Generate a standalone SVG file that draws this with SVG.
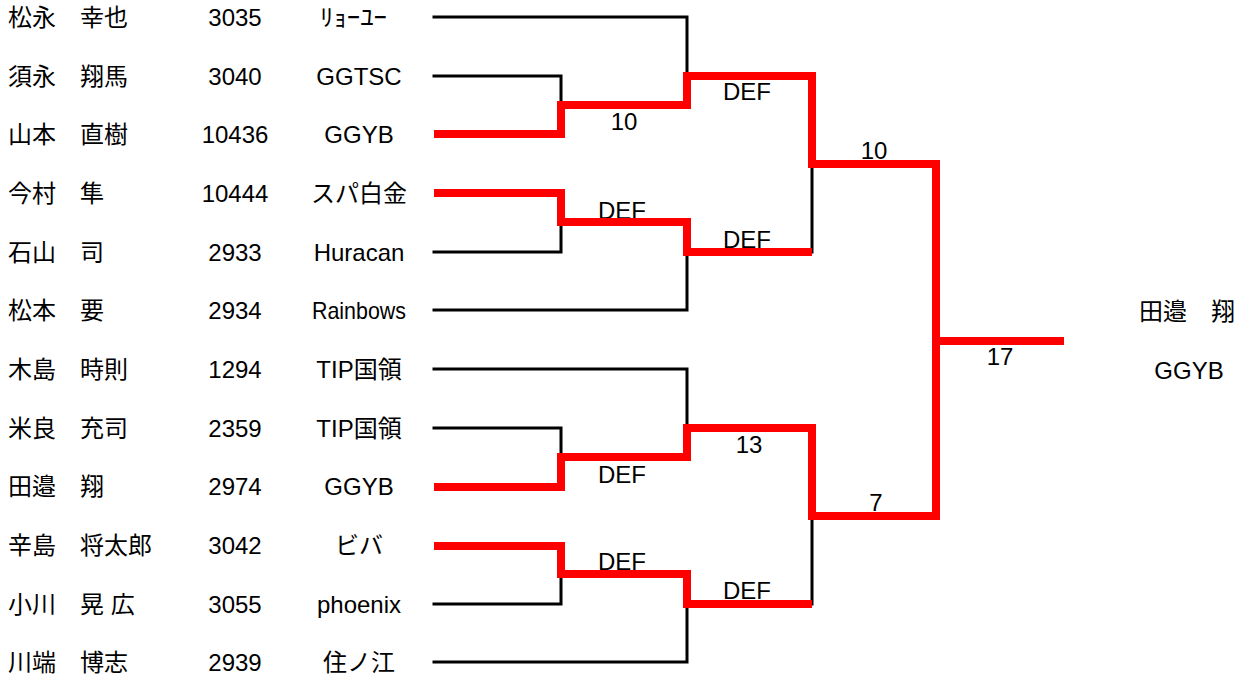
<svg xmlns="http://www.w3.org/2000/svg" width="1242" height="679" viewBox="0 0 1242 679">
<style>
text{font-family:"Liberation Sans","Noto Sans CJK JP",sans-serif;font-size:24px;fill:#000}
.n{text-anchor:start}
.c{text-anchor:middle}
.bk{fill:none;stroke:#000;stroke-width:3;stroke-linejoin:miter;stroke-linecap:square}
.rd{fill:none;stroke:#ff0000;stroke-width:8;stroke-linejoin:miter;stroke-linecap:butt}
</style>
<rect width="1242" height="679" fill="#fff"/>
<g id="entries">
<g id="p1"><text class="n" x="8" y="26">松永　幸也</text><text class="c" x="235" y="26">3035</text><text class="n" x="320" y="26" textLength="67" lengthAdjust="spacingAndGlyphs">ﾘｮｰﾕｰ</text></g>
<g id="p2"><text class="n" x="8" y="85">須永　翔馬</text><text class="c" x="235" y="85">3040</text><text class="c" x="359" y="85">GGTSC</text></g>
<g id="p3"><text class="n" x="8" y="143">山本　直樹</text><text class="c" x="235" y="143">10436</text><text class="c" x="359" y="143">GGYB</text></g>
<g id="p4"><text class="n" x="8" y="202">今村　隼</text><text class="c" x="235" y="202">10444</text><text class="c" x="359" y="202">スパ白金</text></g>
<g id="p5"><text class="n" x="8" y="261">石山　司</text><text class="c" x="235" y="261">2933</text><text class="c" x="359" y="261">Huracan</text></g>
<g id="p6"><text class="n" x="8" y="319">松本　要</text><text class="c" x="235" y="319">2934</text><text class="c" x="359" y="319" textLength="94" lengthAdjust="spacingAndGlyphs">Rainbows</text></g>
<g id="p7"><text class="n" x="8" y="378">木島　時則</text><text class="c" x="235" y="378">1294</text><text class="c" x="359" y="378">TIP国領</text></g>
<g id="p8"><text class="n" x="8" y="437">米良　充司</text><text class="c" x="235" y="437">2359</text><text class="c" x="359" y="437">TIP国領</text></g>
<g id="p9"><text class="n" x="8" y="495">田邉　翔</text><text class="c" x="235" y="495">2974</text><text class="c" x="359" y="495">GGYB</text></g>
<g id="p10"><text class="n" x="8" y="554">辛島　将太郎</text><text class="c" x="235" y="554">3042</text><text class="c" x="359" y="554">ビバ</text></g>
<g id="p11"><text class="n" x="8" y="613">小川　晃 広</text><text class="c" x="235" y="613">3055</text><text class="c" x="359" y="613">phoenix</text></g>
<g id="p12"><text class="n" x="8" y="671">川端　博志</text><text class="c" x="235" y="671">2939</text><text class="c" x="359" y="671">住ノ江</text></g>
</g>
<g id="winner"><text class="c" x="1187" y="320">田邉　翔</text><text class="c" x="1189" y="379">GGYB</text></g>
<g id="scores">
<text class="c" x="624" y="130">10</text>
<text class="c" x="747" y="100">DEF</text>
<text class="c" x="874" y="159">10</text>
<text class="c" x="622" y="219">DEF</text>
<text class="c" x="747" y="248">DEF</text>
<text class="c" x="1000" y="365">17</text>
<text class="c" x="749" y="453">13</text>
<text class="c" x="622" y="483">DEF</text>
<text class="c" x="876" y="511">7</text>
<text class="c" x="622" y="570">DEF</text>
<text class="c" x="747" y="599">DEF</text>
</g>
<g id="connectors">
<path class="bk" d="M434,17 H687 V76 M434,76 H561 V105 M434,252 H561 V222 M434,310 H687 V252 M812,164 V252 M936,164 V341 M434,369 H687 V428 M434,428 H561 V457 M434,604 H561 V574 M434,662 H687 V604 M812,516 V604"/>
<path class="rd" d="M434,134 H561 V105 H687 V76 H812 V164 H936 V341 H1064"/>
<path class="rd" d="M434,193 H561 V222 H687 V252 H812"/>
<path class="rd" d="M434,487 H561 V457 H687 V428 H812 V516 H936 V341"/>
<path class="rd" d="M434,546 H561 V574 H687 V604 H812"/>
</g>
</svg>
